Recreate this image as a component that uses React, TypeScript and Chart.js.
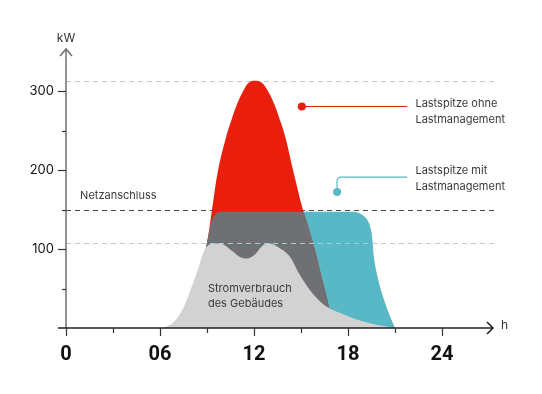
import React, { useEffect, useRef } from 'react';
import { Chart, registerables } from 'chart.js';
Chart.register(...registerables);

// Building consumption (light grey)
const BUILDING_H = [6.2, 6.9, 7.5, 8.0, 8.45, 8.8, 9.1, 9.5, 10.0, 10.5, 11.1, 11.55, 12.0, 12.6, 13.0, 13.5, 14.3, 14.9, 15.6, 16.2, 16.8, 17.5, 18.5, 19.6, 21.0];
const BUILDING_KW = [0, 8, 26, 51, 76, 97, 105, 107, 106, 99, 90, 88, 92, 105, 107, 103, 90, 68, 47, 34, 25, 19, 11, 5, 0];

// Peak without load management (red)
const PEAK_H = [8.7, 9.0, 9.32, 9.7, 10.21, 10.57, 10.91, 11.36, 11.7, 12.05, 12.45, 12.83, 13.28, 13.66, 13.98, 14.49, 15.13, 15.79, 16.32, 16.8, 16.95];
const PEAK_KW = [85, 108, 150, 199, 241, 264, 283, 302, 311, 313, 311, 302, 284, 263, 243, 200, 149, 106, 64, 24, 0];

// Consumption capped at grid connection (dark grey)
const CAPPED_H = [8.7, 9.0, 9.25, 9.55, 10.0, 15.0, 15.13, 15.79, 16.32, 16.8, 16.95];
const CAPPED_KW = [85, 108, 133, 144, 147, 147, 146, 106, 64, 24, 0];

// Shifted load with load management (cyan)
const SHIFTED_H = [14.9, 18.2, 18.75, 19.15, 19.42, 19.55, 19.65, 19.85, 20.15, 20.6, 21.0];
const SHIFTED_KW = [147, 147, 145, 139, 128, 112, 90, 68, 45, 19, 0];

const X_TICK_VALUES = [0, 6, 12, 18, 24];
const X_TICK_LABELS = ['0', '06', '12', '18', '24'];
const X_MINOR_TICKS = [3, 9, 15, 21];
const Y_TICK_VALUES = [100, 200, 300];
const Y_TICK_LABELS = ['100', '200', '300'];
const Y_MINOR_TICKS = [50, 150, 250];
const REF_LINES = [313, 150, 108];

const pts = (h: number[], v: number[]) => h.map((x, i) => ({ x, y: v[i] }));

const FONT = 'Inter, "Noto Sans", sans-serif';

const overlay = {
  id: 'overlay',
  beforeDatasetsDraw(chart: any) {
    const { ctx, chartArea, scales } = chart;
    const x = scales.x, y = scales.y;
    ctx.save();
    ctx.lineWidth = 1;
    ctx.setLineDash([5, 4]);
    REF_LINES.forEach((v, i) => {
      ctx.strokeStyle = i === 1 ? '#4a4a4a' : '#c8c8c8';
      const py = Math.round(y.getPixelForValue(v)) + 0.5;
      ctx.beginPath();
      ctx.moveTo(x.getPixelForValue(0), py);
      ctx.lineTo(chartArea.right + 4, py);
      ctx.stroke();
    });
    ctx.restore();
  },
  afterDatasetsDraw(chart: any) {
    const { ctx, chartArea, scales } = chart;
    const x = scales.x, y = scales.y;
    const x0 = x.getPixelForValue(0);
    const y0 = y.getPixelForValue(0);
    ctx.save();
    // light cyan overlay of the 108 line
    ctx.lineWidth = 1;
    ctx.setLineDash([5, 4]);
    ctx.strokeStyle = '#9ad5dd';
    const py108 = Math.round(y.getPixelForValue(REF_LINES[2])) + 0.5;
    ctx.save();
    ctx.beginPath();
    ctx.rect(x.getPixelForValue(9.0), py108 - 3, x.getPixelForValue(19.55) - x.getPixelForValue(9.0), 6);
    ctx.clip();
    ctx.beginPath();
    ctx.moveTo(x0, py108);
    ctx.lineTo(chartArea.right + 4, py108);
    ctx.stroke();
    ctx.restore();
    ctx.setLineDash([]);

    // Y axis
    ctx.strokeStyle = '#707070';
    ctx.lineWidth = 1.5;
    ctx.beginPath();
    ctx.moveTo(x0, chartArea.top - 1);
    ctx.lineTo(x0, y0);
    ctx.stroke();
    ctx.beginPath();
    ctx.moveTo(x0 - 6, chartArea.top + 6);
    ctx.lineTo(x0, chartArea.top - 1);
    ctx.lineTo(x0 + 6, chartArea.top + 6);
    ctx.stroke();

    // X axis
    ctx.strokeStyle = '#1e1e1e';
    ctx.beginPath();
    ctx.moveTo(x0 - 8, y0);
    ctx.lineTo(chartArea.right + 3, y0);
    ctx.stroke();
    ctx.beginPath();
    ctx.moveTo(chartArea.right - 3, y0 - 6);
    ctx.lineTo(chartArea.right + 3, y0);
    ctx.lineTo(chartArea.right - 3, y0 + 6);
    ctx.stroke();

    // X ticks
    ctx.lineWidth = 1.2;
    ctx.strokeStyle = '#333';
    X_TICK_VALUES.forEach((v) => {
      const px = Math.round(x.getPixelForValue(v)) + 0.5;
      ctx.beginPath(); ctx.moveTo(px, y0); ctx.lineTo(px, y0 + 8); ctx.stroke();
    });
    X_MINOR_TICKS.forEach((v) => {
      const px = Math.round(x.getPixelForValue(v)) + 0.5;
      ctx.beginPath(); ctx.moveTo(px, y0); ctx.lineTo(px, y0 + 5); ctx.stroke();
    });
    // Y ticks
    Y_TICK_VALUES.forEach((v) => {
      const py = Math.round(y.getPixelForValue(v)) + 0.5;
      ctx.beginPath(); ctx.moveTo(x0 - 8, py); ctx.lineTo(x0, py); ctx.stroke();
    });
    Y_MINOR_TICKS.forEach((v) => {
      const py = Math.round(y.getPixelForValue(v)) + 0.5;
      ctx.beginPath(); ctx.moveTo(x0 - 4, py); ctx.lineTo(x0, py); ctx.stroke();
    });

    // Tick labels
    ctx.fillStyle = '#111';
    ctx.font = 'bold 20px Roboto, sans-serif';
    ctx.textAlign = 'center';
    ctx.textBaseline = 'middle';
    X_TICK_VALUES.forEach((v, i) => {
      ctx.fillText(X_TICK_LABELS[i], x.getPixelForValue(v), y0 + 27);
    });
    ctx.font = '13px ' + FONT;
    ctx.textAlign = 'right';
    Y_TICK_VALUES.forEach((v, i) => {
      ctx.fillText(Y_TICK_LABELS[i], x0 - 12, y.getPixelForValue(v) + 0.5);
    });

    // Axis titles
    ctx.fillStyle = '#333';
    ctx.font = '12px ' + FONT;
    ctx.textAlign = 'center';
    ctx.fillText('kW', x0, chartArea.top - 12);
    ctx.textAlign = 'left';
    ctx.fillText('h', chartArea.right + 11, y0 - 3);

    // Text labels
    ctx.font = '11px ' + FONT;
    ctx.fillStyle = '#3a3a3a';
    ctx.fillText('Netzanschluss', x.getPixelForValue(0.9), y.getPixelForValue(167));
    ctx.fillText('Stromverbrauch', x.getPixelForValue(9.06), y.getPixelForValue(49.4));
    ctx.fillText('des Gebäudes', x.getPixelForValue(9.06), y.getPixelForValue(30.4));

    const lx = x.getPixelForValue(22.3);
    ctx.fillText('Lastspitze ohne', lx, y.getPixelForValue(283.5));
    ctx.fillText('Lastmanagement', lx, y.getPixelForValue(283.5) + 15.5);
    ctx.fillText('Lastspitze mit', lx, y.getPixelForValue(198.7));
    ctx.fillText('Lastmanagement', lx, y.getPixelForValue(198.7) + 16);

    // Red marker
    const lineEnd = x.getPixelForValue(21.77);
    const rx = x.getPixelForValue(15.05), ry = y.getPixelForValue(280.4);
    ctx.strokeStyle = '#e91e0d';
    ctx.fillStyle = '#e91e0d';
    ctx.lineWidth = 1.2;
    ctx.beginPath(); ctx.moveTo(rx, ry); ctx.lineTo(lineEnd, ry); ctx.stroke();
    ctx.beginPath(); ctx.arc(rx, ry, 4, 0, Math.PI * 2); ctx.fill();

    // Cyan marker
    const cx = x.getPixelForValue(17.3), cy = y.getPixelForValue(172);
    const cTop = y.getPixelForValue(191);
    ctx.strokeStyle = '#58b8c5';
    ctx.fillStyle = '#58b8c5';
    ctx.beginPath();
    ctx.moveTo(cx, cy);
    ctx.lineTo(cx, cTop + 4);
    ctx.arcTo(cx, cTop, cx + 4, cTop, 4);
    ctx.lineTo(lineEnd, cTop);
    ctx.stroke();
    ctx.beginPath(); ctx.arc(cx, cy, 4, 0, Math.PI * 2); ctx.fill();

    ctx.restore();
  },
};

export default function App() {
  const ref = useRef<HTMLCanvasElement | null>(null);
  useEffect(() => {
    if (!ref.current) return;
    const mono = { borderWidth: 0, pointRadius: 0, fill: 'origin', cubicInterpolationMode: 'monotone' as const };
    const smooth = { borderWidth: 0, pointRadius: 0, fill: 'origin', tension: 0.4 };
    const chart = new Chart(ref.current, {
      type: 'line',
      data: {
        datasets: [
          { ...mono, label: 'Stromverbrauch des Gebäudes', data: pts(BUILDING_H, BUILDING_KW), backgroundColor: '#d2d2d2', borderColor: '#d2d2d2', order: 1 },
          { ...mono, label: 'Begrenzt', data: pts(CAPPED_H, CAPPED_KW), backgroundColor: '#6f7073', borderColor: '#6f7073', order: 2 },
          { ...smooth, label: 'Lastspitze ohne Lastmanagement', data: pts(PEAK_H, PEAK_KW), backgroundColor: '#e91e0d', borderColor: '#e91e0d', order: 3 },
          { ...smooth, label: 'Lastspitze mit Lastmanagement', data: pts(SHIFTED_H, SHIFTED_KW), backgroundColor: '#58b8c5', borderColor: '#58b8c5', order: 4 },
        ],
      },
      options: {
        responsive: false,
        animation: false,
        layout: { padding: { left: 66, right: 52, top: 50, bottom: 66 } },
        scales: {
          x: { type: 'linear', min: 0, max: 27.06, display: false },
          y: { type: 'linear', min: 0, max: 351.9, display: false },
        },
        plugins: { legend: { display: false }, tooltip: { enabled: false } },
      },
      plugins: [overlay],
    });
    return () => chart.destroy();
  }, []);
  return (
    <div style={{ position: 'absolute', left: 0, top: 0, width: 542, height: 394, background: '#fff' }}>
      <canvas ref={ref} width={542} height={394} style={{ width: 542, height: 394 }} />
    </div>
  );
}
